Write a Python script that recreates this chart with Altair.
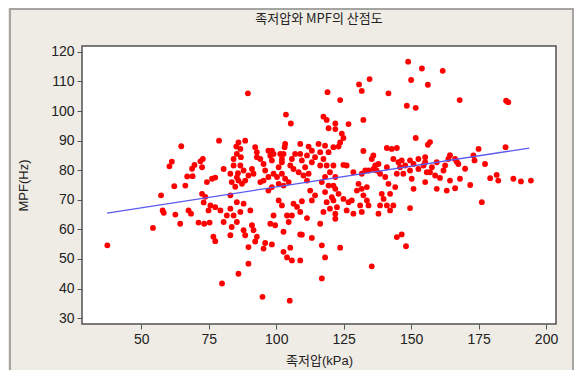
import altair as alt
import pandas as pd

# Plantar pressure (kPa) and MPF (Hz)
pressure_a = [37.4, 54.3, 57.3, 57.9, 58.3, 60.4, 61.3, 62.2, 62.6, 64.4,
              64.8, 66.3, 67.0, 69.0, 67.5, 68.4, 68.8, 69.7, 71.9, 72.8,
              72.5, 71.2, 73.3, 75.3, 72.5, 73.7, 73.1, 74.3, 75.6, 77.4,
              74.9, 76.2, 77.4, 76.7, 77.4, 78.8, 79.9, 80.5, 83.0, 84.2,
              85.4, 86.9, 83.0, 85.4, 85.2, 86.0, 86.0, 87.9, 88.5, 89.7,
              89.7, 89.5, 94.9, 105.0, 91.0, 91.6, 92.8, 95.3, 98.4, 102.7,
              104.0, 105.2, 105.8, 108.9, 108.9, 116.9, 118.1, 116.9, 123.7, 135.4,
              144.7, 146.5, 148.1, 116.3, 92.2, 95.9, 102.7, 109.5, 113.2,
              84.2, 83.5, 84.8, 83.0, 85.4, 83.0, 84.2, 85.4, 83.5, 80.5, 81.7, 79.3]
mpf_a = [54.6, 60.5, 71.5, 66.4, 65.6, 81.3, 82.9, 74.6, 65.0, 61.9,
         88.1, 74.8, 77.9, 78.0, 66.4, 65.3, 80.5, 81.8, 83.0, 83.8,
         81.0, 62.3, 61.9, 62.3, 72.0, 71.0, 69.1, 76.0, 68.1, 67.5,
         66.4, 77.1, 77.5, 57.5, 56.0, 90.0, 41.7, 80.4, 58.0, 83.8,
         85.5, 84.4, 78.8, 77.6, 88.0, 89.4, 45.0, 59.7, 58.0, 54.0,
         48.4, 106.0, 37.2, 35.9, 61.4, 59.7, 57.5, 53.5, 54.9, 52.4,
         50.5, 53.8, 49.5, 49.5, 58.3, 54.6, 50.5, 43.4, 53.8, 47.5,
         57.4, 58.3, 54.3, 61.9, 55.9, 55.4, 59.2, 58.2, 57.1,
         81.6, 76.0, 74.4, 71.5, 69.2, 67.0, 64.7, 62.5, 60.8, 62.5, 64.7, 66.4]

pressure_b = [103.6, 105.4, 119.0, 123.7, 130.7, 131.7, 134.6, 141.6, 148.9, 154.0,
              161.7, 150.0, 156.2, 148.4, 151.7, 168.0, 185.2, 186.0, 151.7, 157.0,
              156.2, 175.0, 185.0, 117.5, 118.7, 119.4, 121.9, 126.8, 132.3, 121.9,
              124.3, 124.9, 123.7, 123.1, 121.2, 103.3, 98.4, 99.0, 102.7, 102.1,
              108.9, 112.0, 115.7, 108.9, 111.4, 113.2, 114.4, 116.3, 88.5, 86.7,
              92.8, 132.3, 136.0, 141.0, 142.8, 144.7, 137.9, 134.2]
mpf_b = [98.8, 95.8, 106.4, 103.7, 109.0, 106.8, 110.8, 106.0, 116.7, 114.4,
         113.6, 110.5, 108.9, 101.8, 101.1, 103.7, 103.5, 103.0, 90.9, 89.5,
         88.6, 87.2, 87.8, 98.1, 97.0, 94.2, 95.8, 95.6, 97.0, 93.9,
         92.4, 90.9, 89.4, 88.0, 87.8, 88.9, 86.6, 85.5, 85.5, 83.8,
         88.9, 88.0, 88.9, 85.5, 85.0, 86.6, 84.4, 86.1, 90.0, 87.2,
         84.4, 86.5, 85.0, 87.5, 87.2, 87.5, 82.1, 79.9]

pressure_c = [92.2, 92.8, 86.7, 87.9, 85.8, 86.0, 87.3, 88.5, 89.7, 91.0,
              91.6, 94.1, 95.3, 95.9, 97.1, 97.8, 98.4, 101.5, 103.1, 102.1,
              100.9, 99.0, 100.3, 97.1, 95.3, 94.1, 102.1, 103.3, 104.6, 102.7,
              100.9, 97.1, 98.4, 105.2, 106.4, 105.8, 107.0, 109.5, 110.7, 108.3,
              110.1, 113.2, 116.3, 112.0, 111.4, 112.6, 114.4, 113.2, 118.1, 119.4,
              117.5, 118.7, 119.9, 118.1, 116.9, 119.4, 118.1, 120.6, 118.7, 119.9,
              117.5, 100.9, 102.1, 106.4, 107.7, 108.9, 105.8, 104.0, 99.0, 97.8,
              99.6, 104.6, 90.4, 87.9, 86.7, 111.4, 109.5]
mpf_c = [87.8, 86.1, 81.6, 79.9, 79.0, 76.5, 75.4, 76.5, 78.2, 80.4,
         78.8, 83.8, 82.1, 79.9, 86.6, 84.9, 83.3, 85.5, 87.8, 82.7,
         81.0, 78.8, 77.7, 77.7, 76.5, 76.0, 78.8, 77.1, 76.0, 74.8,
         75.4, 73.1, 74.3, 81.6, 80.4, 83.8, 85.5, 83.3, 81.0, 79.3,
         78.2, 82.7, 81.6, 78.8, 76.5, 73.1, 71.5, 69.8, 88.3, 86.1,
         83.8, 81.6, 79.3, 77.7, 76.0, 74.8, 72.6, 70.9, 69.2, 67.0,
         65.9, 69.8, 68.1, 68.7, 67.6, 65.9, 64.7, 64.7, 64.7, 61.9,
         61.4, 62.5, 66.4, 68.7, 65.9, 63.8, 69.5]

pressure_d = [121.2, 121.9, 121.2, 124.9, 126.1, 128.6, 131.7, 133.0, 136.0, 137.2,
              135.4, 136.7, 143.4, 145.3, 146.5, 147.8, 149.6, 150.9, 152.7, 154.6,
              155.2, 155.8, 152.7, 149.6, 147.1, 150.2, 155.2, 140.4, 141.6, 144.1,
              142.2, 130.5, 131.7, 133.6, 129.9, 132.3, 133.6, 131.1, 134.2, 131.7,
              139.1, 139.8, 138.5, 141.0, 143.4, 137.9, 142.2, 149.6, 121.9, 123.1,
              124.9, 126.8, 128.0, 121.2, 122.5, 121.9, 126.1, 128.6, 121.9, 145.9,
              141.0, 138.5, 144.7]
mpf_d = [81.6, 77.7, 74.8, 81.8, 81.6, 79.3, 78.8, 79.9, 80.4, 79.9,
         83.8, 81.6, 83.8, 82.7, 83.3, 81.6, 83.3, 82.1, 83.8, 81.6,
         82.7, 79.3, 80.4, 79.9, 78.8, 77.1, 76.0, 77.7, 75.4, 74.3,
         72.0, 75.4, 73.7, 74.3, 73.1, 71.5, 69.8, 68.1, 68.1, 65.9,
         72.0, 70.3, 68.1, 68.1, 68.1, 65.3, 66.4, 67.2, 73.7, 72.0,
         70.3, 69.2, 69.8, 69.8, 67.5, 65.3, 66.4, 65.3, 63.6, 81.0,
         81.0, 78.8, 78.8]

pressure_e = [155.2, 157.7, 157.0, 159.5, 164.4, 163.8, 166.3, 166.9, 167.5, 173.1,
              173.5, 177.4, 162.6, 162.0, 170.0, 158.9, 160.7, 164.4, 168.1, 159.5,
              163.2, 166.3, 171.9, 179.3, 181.7, 182.3, 187.9, 190.7, 194.4, 176.2,
              150.9]
mpf_e = [84.4, 81.0, 79.3, 82.7, 85.1, 83.8, 83.8, 82.9, 82.1, 85.0,
         83.3, 82.1, 81.6, 79.9, 80.5, 78.2, 77.4, 76.5, 77.1, 73.7,
         73.1, 73.9, 75.0, 77.3, 78.4, 76.5, 77.1, 76.2, 76.5, 69.2,
         73.7]

# fitted regression line (end points)
fit_pressure = [37.3, 193.8]
fit_mpf = [65.5, 87.5]

x_ticks = [50, 75, 100, 125, 150, 175, 200]
y_ticks = [30, 40, 50, 60, 70, 80, 90, 100, 110, 120]

pressure = pressure_a + pressure_b + pressure_c + pressure_d + pressure_e
mpf = mpf_a + mpf_b + mpf_c + mpf_d + mpf_e
df = pd.DataFrame({"x": pressure, "y": mpf})
fit_df = pd.DataFrame({"x": fit_pressure, "y": fit_mpf})

x_scale = alt.Scale(domain=[28, 203.7], nice=False, zero=False)
y_scale = alt.Scale(domain=[28, 122], nice=False, zero=False)

LABEL_FONT = "Liberation Sans, Noto Sans CJK KR"

x_axis = alt.Axis(values=x_ticks, title="족저압(kPa)", grid=False, domain=False,
                  tickSize=5, tickColor="#555555", tickWidth=1, labelOverlap=False,
                  labelPadding=3, titlePadding=8, zindex=2)
y_axis = alt.Axis(values=y_ticks, title="MPF(Hz)", grid=False, domain=False,
                  tickSize=5, tickColor="#555555", tickWidth=1, labelOverlap=False,
                  labelPadding=3, titlePadding=20, zindex=2)

border = alt.Chart(pd.DataFrame({"a": [0]})).mark_rect(
    fillOpacity=0, stroke="#8c8c8c", strokeWidth=1.5
).encode(
    x=alt.value(-72), x2=alt.value(491), y=alt.value(-37), y2=alt.value(340)
)

plot_bg = alt.Chart(pd.DataFrame({"a": [0]})).mark_rect(
    fill="white", stroke="#505050", strokeWidth=1.5
).encode(
    x=alt.value(0), x2=alt.value(474), y=alt.value(0), y2=alt.value(278)
)

points = alt.Chart(df).mark_circle(size=34, color="#ff0000", opacity=1).encode(
    x=alt.X("x:Q", scale=x_scale, axis=x_axis),
    y=alt.Y("y:Q", scale=y_scale, axis=y_axis),
)

line = alt.Chart(fit_df).mark_line(color="#5a5aee", strokeWidth=1.3).encode(
    x=alt.X("x:Q", scale=x_scale, axis=x_axis),
    y=alt.Y("y:Q", scale=y_scale, axis=y_axis),
)

chart = alt.layer(border, plot_bg, points, line).properties(
    width=474,
    height=278,
    autosize=alt.AutoSizeParams(type="none"),
    padding={"left": 74, "top": 38, "right": 18, "bottom": 46},
    background="#efece5",
    title=alt.TitleParams(
        "족저압와 MPF의 산점도", font="Noto Sans CJK KR", fontSize=13,
        fontWeight="normal", color="#222222", anchor="middle", offset=12,
        dy=30, zindex=2,
    ),
).configure_view(
    stroke=None
).configure_axis(
    labelFont=LABEL_FONT, labelFontSize=14, labelColor="#222222",
    titleFont=LABEL_FONT, titleFontSize=13, titleColor="#222222",
    titleFontWeight="normal",
)

chart.save("out.html", embed_options={"renderer": "svg", "actions": False})
